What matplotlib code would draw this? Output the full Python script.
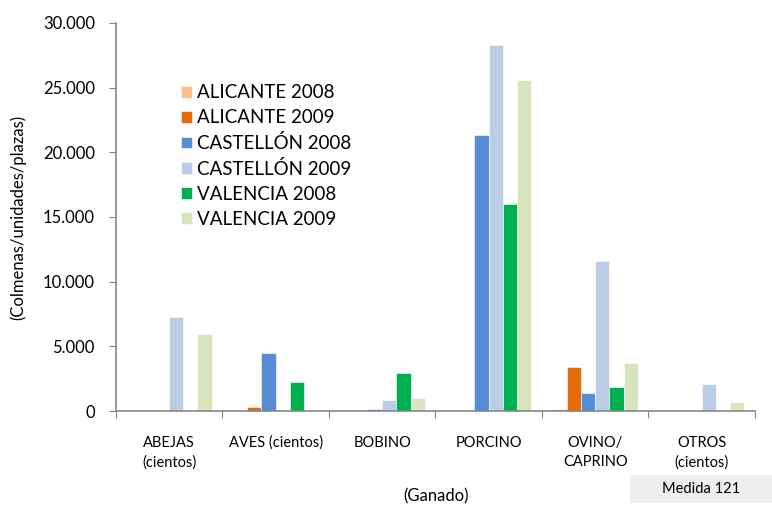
import numpy as np
import matplotlib
matplotlib.use('Agg')
import matplotlib.pyplot as plt
from matplotlib.patches import Rectangle
from matplotlib.ticker import FuncFormatter

plt.rcParams['font.family'] = ['Lato', 'DejaVu Sans']

categories = ['ABEJAS\n(cientos)', 'AVES (cientos)', 'BOBINO', 'PORCINO',
              'OVINO/\nCAPRINO', 'OTROS\n(cientos)']
series = ['ALICANTE 2008', 'ALICANTE 2009', 'CASTELLÓN 2008',
          'CASTELLÓN 2009', 'VALENCIA 2008', 'VALENCIA 2009']
alicante_2008 = [0, 0, 0, 0, 180, 0]
alicante_2009 = [0, 290, 0, 0, 3450, 0]
castellon_2008 = [0, 4480, 130, 21300, 1410, 0]
castellon_2009 = [7300, 0, 850, 28300, 11570, 2090]
valencia_2008 = [0, 2220, 2940, 16000, 1850, 0]
valencia_2009 = [6000, 0, 1000, 25600, 3730, 700]
colors = ['#FAC090', '#E46C0A', '#558ED5', '#B9CDE5', '#00B050', '#D7E4BD']

values = [alicante_2008, alicante_2009, castellon_2008,
          castellon_2009, valencia_2008, valencia_2009]

fig = plt.figure(figsize=(7.72, 5.07), dpi=100)
ax = fig.add_axes([0.150, 0.189, 0.828, 0.766])

x = np.arange(len(categories))
w = 0.8 / len(series)
for i, (name, vals, c) in enumerate(zip(series, values, colors)):
    ax.bar(x - 0.4 + w * (i + 0.5), vals, w, color=c, label=name,
           edgecolor='white', linewidth=0.4)

ax.set_xlim(-0.5, len(categories) - 0.5)
ax.set_ylim(0, 30000)
ax.set_yticks(np.arange(0, 30001, 5000))
ax.yaxis.set_major_formatter(FuncFormatter(lambda v, p: f'{int(v):,}'.replace(',', '.')))
ax.set_xticks(np.arange(-0.5, len(categories), 1.0))
ax.set_xticklabels([])
ax.tick_params(axis='x', length=5, color='#868686', direction='out')
ax.tick_params(axis='y', length=5, color='#868686', labelsize=12, pad=10)

for s in ['top', 'right']:
    ax.spines[s].set_visible(False)
for s in ['left', 'bottom']:
    ax.spines[s].set_color('#868686')
    ax.spines[s].set_linewidth(1.2)

for xi, lab in zip(x, categories):
    ax.text(xi, -1900, lab, ha='center', va='top', fontsize=10.5,
            linespacing=1.5)

ax.set_ylabel('(Colmenas/unidades/plazas)', fontsize=12, labelpad=12)
fig.text(0.565, 0.02, '(Ganado)', ha='center', va='center', fontsize=12)

# recuadro "Medida 121"
fig.patches.append(Rectangle((630 / 772, 1 - 503 / 507), 142 / 772, 28 / 507,
                             transform=fig.transFigure, fc='#EEEEEE', ec='none'))
fig.text(701 / 772, 1 - 489 / 507, 'Medida 121', ha='center', va='center',
         fontsize=10.5)

ax.legend(loc='upper left', bbox_to_anchor=(0.075, 0.885), frameon=False,
          fontsize=13.5, handlelength=0.6, handleheight=0.6, handletextpad=0.3,
          labelspacing=0.42)

fig.savefig('out.png', dpi=100)
